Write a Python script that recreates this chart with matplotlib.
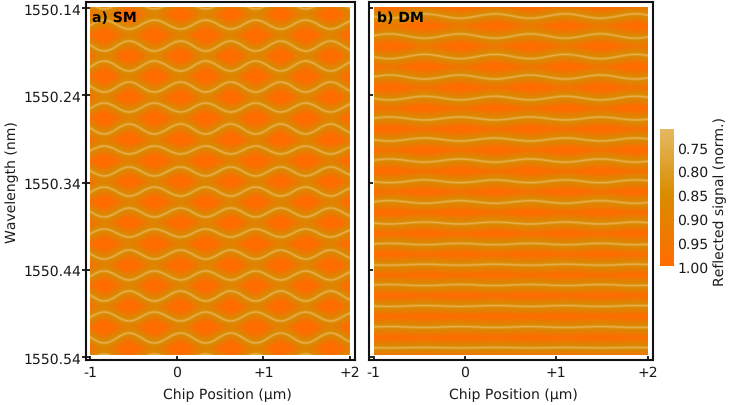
#!/usr/bin/env python3
"""Reflected signal vs chip position and wavelength, SM and DM panels.

Each panel is drawn from the fringe minima read off the picture: at every
turning point a fringe sits at its "up" or "down" wavelength.
"""
import matplotlib
matplotlib.use("Agg")
import matplotlib.pyplot as plt
from matplotlib.cm import ScalarMappable
from matplotlib.colors import LinearSegmentedColormap, Normalize
from matplotlib.patches import PathPatch, Rectangle
from matplotlib.path import Path

plt.rcParams["text.hinting"] = "no_hinting"
plt.rcParams["text.hinting_factor"] = 1

W, H = 729, 406
TEXT = "#1a1a1a"
FS = 10.1

# turning points of the fringes along the chip (um)
SM_X = [-1.126, -0.838, -0.55, -0.26, 0.046, 0.334, 0.623, 0.911, 1.2, 1.488, 1.776, 2.064]
DM_X = [-1.209, -0.824, -0.44, -0.055, 0.33, 0.714, 1.10, 1.484, 1.87, 2.25]

# SM fringes, wavelength offsets from 1550 nm at the two turning points
SM_UP = [.131, .1538, .1778, .2007, .2248, .2489, .2729, .2982, .3222,
         .3452, .3692, .3933, .4174, .4414, .4643, .4884, .5125, .5366]
SM_DOWN = [.141, .1641, .1893, .2122, .2363, .2592, .2844, .3073, .3325,
           .3555, .3795, .4025, .4277, .4517, .4758, .4987, .5239, .5481]

# DM fringes, centre and half swing
DM_MID = [.1492, .1721, .1956, .2191, .2432, .2666, .2907, .3148, .3386,
          .3623, .3864, .4105, .4342, .4575, .4815, .5056, .5293]
DM_SWING = [.0025, .0025, .0025, .0023, .0021, .0017, .0017, .0018, .0016,
            .0015, .0011, .0008, .0006, .0006, .0005, .0005, .0003]

WL_TICKS = [1550.14, 1550.24, 1550.34, 1550.44, 1550.54]
POS_TICKS = [-1, 0, 1, 2]
POS_LABELS = ["-1", "0", "+1", "+2"]
CB_TICKS = [0.75, 0.80, 0.85, 0.90, 0.95, 1.00]

CMAP = LinearSegmentedColormap.from_list(
    "signal", [(0, "#E4B962"), (0.48, "#D98C00"), (1, "#FF6C00")])
NORM = Normalize(0.712, 1.0)


def box(left, top, right, bottom):
    return [left / W, 1 - bottom / H, (right - left) / W, (bottom - top) / H]


def fringe_path(xs, first, second):
    """Smooth curve through the turning points, flat at each one."""
    verts = [(xs[0], first)]
    codes = [Path.MOVETO]
    y0 = first
    for i in range(1, len(xs)):
        y1 = second if i % 2 else first
        d = (xs[i] - xs[i - 1]) * 0.37
        verts += [(xs[i - 1] + d, y0), (xs[i] - d, y1), (xs[i], y1)]
        codes += [Path.CURVE4] * 3
        y0 = y1
    return Path(verts, codes)


def draw_panel(ax, fringes):
    area = Rectangle((-1, 1550.1394), 3, 0.3983, fc=CMAP(NORM(1.0)), ec="none")
    ax.add_patch(area)
    # glow around each fringe, from wide and faint to the thin bright core
    layers = [(14.5, 0.08, "#D98C00"), (13, 0.12, "#D98C00"), (11.5, 0.16, "#D98C00"),
              (10, 0.2, "#D98C00"), (8.5, 0.24, "#D98C00"), (7, 0.28, "#D98C00"),
              (5.5, 0.32, "#D98C00"), (4, 0.36, "#DA9006"),
              (2.6, 0.45, "#E09A20"), (1.5, 0.5, "#E6AE48"), (0.7, 0.5, "#EDC070")]
    for lw, alpha, col in layers:
        for path in fringes:
            p = PathPatch(path, fc="none", ec=col, lw=lw, alpha=alpha, capstyle="butt")
            ax.add_patch(p)
            p.set_clip_path(area)


fig = plt.figure(figsize=(W / 100, H / 100), dpi=100)
ax1 = fig.add_axes(box(86, 3, 354.5, 361))
ax2 = fig.add_axes(box(368.5, 3, 653, 361))

sm = []
for i in range(len(SM_UP)):
    up, down = 1550 + SM_UP[i], 1550 + SM_DOWN[i]
    # neighbouring fringes swing in opposite directions
    sm.append(fringe_path(SM_X, *((down, up) if i % 2 else (up, down))))
dm = []
for i in range(len(DM_MID)):
    up, down = 1550 + DM_MID[i] - DM_SWING[i], 1550 + DM_MID[i] + DM_SWING[i]
    dm.append(fringe_path(DM_X, *((down, up) if i % 2 else (up, down))))

draw_panel(ax1, sm)
draw_panel(ax2, dm)

for ax in (ax1, ax2):
    ax.set_ylim(1550.5434, 1550.1331)
    ax.set_yticks(WL_TICKS)
    ax.set_xticks(POS_TICKS)
    ax.set_xticklabels(POS_LABELS, color=TEXT, fontsize=FS)
    ax.tick_params(axis="x", direction="in", length=3, width=1.2, pad=4)
    for s in ax.spines.values():
        s.set_linewidth(1.5)
        s.set_color("#111111")
ax1.set_xlim(-1.048, 2.052)
ax2.set_xlim(-1.055, 2.06)

ax1.set_yticklabels([f"{t:.2f}" for t in WL_TICKS], color=TEXT, fontsize=FS)
ax1.tick_params(axis="y", direction="inout", length=6, width=1.2, pad=0.5)
ax2.tick_params(axis="y", direction="in", length=3, width=1.2, labelleft=False)
ax1.set_ylabel("Wavelength (nm)", color=TEXT, fontsize=FS, labelpad=3)

fig.text(227 / W, 1 - 395 / H, "Chip Position (µm)", color=TEXT, fontsize=FS,
         ha="center", va="center")
fig.text(513 / W, 1 - 395 / H, "Chip Position (µm)", color=TEXT, fontsize=FS,
         ha="center", va="center")
ax1.text(92 / W, 1 - 18 / H, "a) SM", transform=fig.transFigure, color="black",
         fontsize=FS, fontweight="bold", va="center")
ax2.text(377 / W, 1 - 18 / H, "b) DM", transform=fig.transFigure, color="black",
         fontsize=FS, fontweight="bold", va="center")

cax = fig.add_axes(box(659.5, 130, 674, 267))
cb = fig.colorbar(ScalarMappable(norm=NORM, cmap=CMAP), cax=cax)
cb.set_ticks(CB_TICKS)
cb.set_ticklabels([f"{t:.2f}" for t in CB_TICKS], color=TEXT, fontsize=FS)
cb.ax.invert_yaxis()
cb.ax.tick_params(length=0, pad=2.5)
cb.outline.set_visible(False)
fig.text(720 / W, 1 - 201 / H, "Reflected signal (norm.)", color=TEXT, fontsize=FS,
         rotation=90, ha="center", va="center")

fig.savefig("out.png", dpi=100)
